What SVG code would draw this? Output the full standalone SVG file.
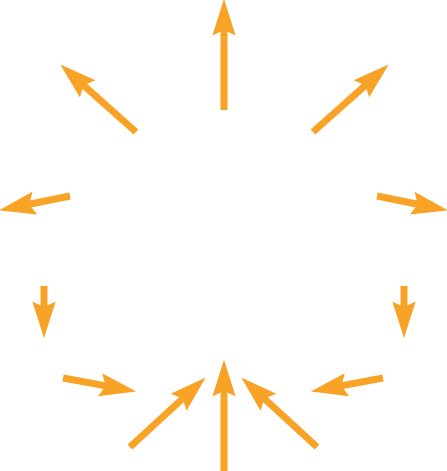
<svg xmlns="http://www.w3.org/2000/svg" width="447" height="471" viewBox="0 0 447 471">
<defs>
<marker id="ah" markerUnits="userSpaceOnUse" markerWidth="40" markerHeight="30" viewBox="0 -12 36 24" refX="13" refY="0" orient="auto" overflow="visible">
<path d="M33,0 L0,-10.5 L5,0 L0,10.5 Z" fill="#F8A325"/>
</marker>
<style>.c line{stroke:#F8A325;stroke-width:7;marker-end:url(#ah);}</style>
</defs>
<rect width="447" height="471" fill="#ffffff"/>
<g id="connectors" class="c">
<line x1="224" y1="110" x2="224" y2="21"/>
<line x1="136" y1="132" x2="76.9" y2="79.3"/>
<line x1="313" y1="132" x2="372.1" y2="79.3"/>
<line x1="70" y1="196" x2="20.6" y2="206"/>
<line x1="377" y1="196" x2="426.4" y2="206"/>
<line x1="44" y1="286" x2="44" y2="316"/>
<line x1="404" y1="286" x2="404" y2="316"/>
<line x1="63" y1="378" x2="114.3" y2="387.4"/>
<line x1="383" y1="378" x2="332.7" y2="387.4"/>
<line x1="130" y1="447" x2="189.3" y2="392.5"/>
<line x1="224" y1="471" x2="224" y2="382"/>
<line x1="317" y1="447" x2="257.7" y2="392.5"/>
</g>
</svg>
